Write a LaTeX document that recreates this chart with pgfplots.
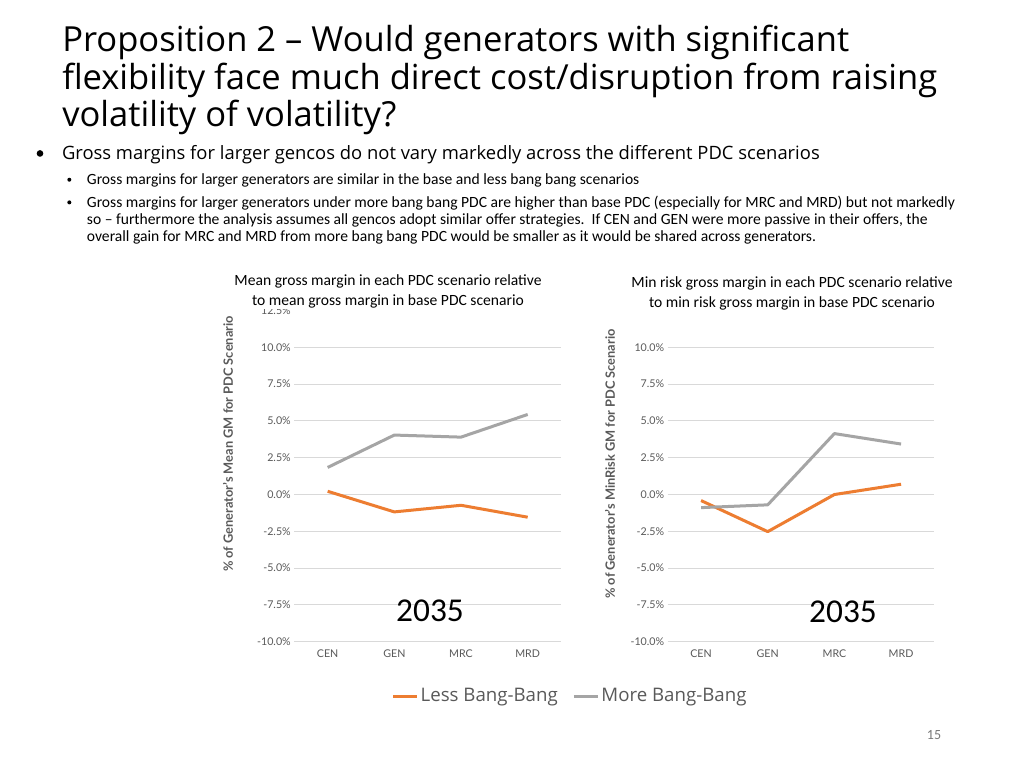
\documentclass[border=0pt]{standalone}
\usepackage{fontspec}
\setmainfont{Lato}
\newfontfamily\osans{Open Sans}
\newfontfamily\carl{Carlito}
\usepackage{pgfplots}
\usepackage{pgfplotstable}
\pgfplotsset{compat=1.18}
\definecolor{lbb}{HTML}{ED7D31}
\definecolor{mbb}{HTML}{A5A5A5}
\definecolor{tickc}{HTML}{595959}
\definecolor{gridc}{HTML}{D9D9D9}

\pgfplotstableread{
x less more
0 0.22 1.84
1 -1.18 4.04
2 -0.73 3.90
3 -1.54 5.44
}\meantab
\pgfplotstableread{
x less more
0 -0.41 -0.89
1 -2.52 -0.70
2 0.00 4.14
3 0.70 3.43
}\mintab

\pgfplotsset{slide/.style={
  scale only axis, width=200pt, height=248.4pt,
  xmin=-0.5, xmax=3.5, ymin=-10, ymax=12.5,
  xtick={0,1,2,3}, xticklabels={CEN,GEN,MRC,MRD},
  ytick={-10,-7.5,-5,-2.5,0,2.5,5,7.5,10},
  yticklabels={-10.0\%,-7.5\%,-5.0\%,-2.5\%,0.0\%,2.5\%,5.0\%,7.5\%,10.0\%},
  ymajorgrids, grid style={gridc, line width=0.75pt},
  axis line style={draw=none}, major tick length=0pt,
  tick label style={font=\fontsize{8}{9.6}\selectfont, text=tickc},
  yticklabel style={anchor=east, inner sep=0pt, xshift=-2.5pt},
  xticklabel style={anchor=base, inner sep=0pt, yshift=-11.8pt},
  every axis plot/.append style={line width=2.25pt, line join=round, no markers},
  clip=false,
}}

\begin{document}
\begin{tikzpicture}
\fill[white] (0,0) rectangle (768pt,576pt);
\path[use as bounding box] (0,0) rectangle (768pt,576pt);

% Left chart
\begin{axis}[slide, at={(220.75pt,94.7pt)}, anchor=south west,
  extra y ticks={12.5}, extra y tick labels={12.5\%}, extra y tick style={grid=none},
  legend columns=2,
  legend style={at={(1.034,-0.164)}, anchor=center, draw=none, fill=none,
    font=\osans\fontsize{14}{17}\selectfont, text=tickc,
    /tikz/every even column/.append style={column sep=9.5pt},
    nodes={inner sep=1.5pt}},
  legend image code/.code={\draw[#1] (0pt,0pt) -- (18pt,0pt);},
]
\addplot[lbb] table[x=x,y=less] {\meantab};
\addlegendentry{Less Bang-Bang}
\addplot[mbb] table[x=x,y=more] {\meantab};
\addlegendentry{More Bang-Bang}
\end{axis}

% Right chart
\begin{axis}[slide, at={(500.8pt,94.7pt)}, anchor=south west]
\addplot[lbb] table[x=x,y=less] {\mintab};
\addplot[mbb] table[x=x,y=more] {\mintab};
\end{axis}

% cover top of 12.5% label (hidden behind the chart title, as in the slide)
\fill[white] (187.5pt,344.5pt) rectangle (228pt,360pt);

% Title
\begin{scope}[every node/.style={anchor=base west, inner sep=0pt, font=\osans\fontsize{25.9}{30}\selectfont}]
\node at (46.5pt,537.2pt) {Proposition 2 – Would generators with significant};
\node at (46.5pt,509.0pt) {flexibility face much direct cost/disruption from raising};
\node at (46.5pt,480.8pt) {volatility of volatility?};
\end{scope}

% Bullets
\fill (30pt,460.9pt) circle (2.5pt);
\node[anchor=base west, inner sep=0pt, font=\osans\fontsize{13.8}{16}\selectfont] at (46.3pt,456.6pt) {Gross margins for larger gencos do not vary markedly across the different PDC scenarios};
\fill (52pt,441.2pt) circle (1.5pt);
\fill (52pt,424.2pt) circle (1.5pt);
\begin{scope}[every node/.style={anchor=base west, inner sep=0pt, font=\carl\fontsize{11.7}{13}\selectfont}]
\node at (65pt,437.4pt) {Gross margins for larger generators are similar in the base and less bang bang scenarios};
\node at (65pt,420.2pt) {Gross margins for larger generators under more bang bang PDC are higher than base PDC (especially for MRC and MRD) but not markedly};
\node at (65pt,407.3pt) {so – furthermore the analysis assumes all gencos adopt similar offer strategies.\ \ If CEN and GEN were more passive in their offers, the};
\node at (65pt,394.6pt) {overall gain for MRC and MRD from more bang bang PDC would be smaller as it would be shared across generators.};
\end{scope}

% Chart titles
\begin{scope}[every node/.style={anchor=base, inner sep=0pt, font=\carl\fontsize{11.7}{13}\selectfont}]
\node at (291pt,361.6pt) {Mean gross margin in each PDC scenario relative};
\node at (291pt,346.8pt) {to mean gross margin in base PDC scenario};
\node at (594pt,360.2pt) {Min risk gross margin in each PDC scenario relative};
\node at (594pt,345.4pt) {to min risk gross margin in base PDC scenario};
\end{scope}

% Y labels
\node[rotate=90, text=tickc, font=\bfseries\fontsize{9.6}{11}\selectfont] at (171pt,243pt) {\% of Generator's Mean GM for PDC Scenario};
\node[rotate=90, text=tickc, font=\bfseries\fontsize{9.6}{11}\selectfont] at (457.5pt,228pt) {\% of Generator's MinRisk GM for PDC Scenario};

% 2035
\node[anchor=base, inner sep=0pt, font=\carl\fontsize{25}{30}\selectfont] at (322.5pt,110pt) {2035};
\node[anchor=base, inner sep=0pt, font=\carl\fontsize{25}{30}\selectfont] at (632.25pt,109.5pt) {2035};

% page number
\node[anchor=base, inner sep=0pt, text=tickc!80, font=\carl\fontsize{10.5}{12}\selectfont] at (700.5pt,21.75pt) {15};
\end{tikzpicture}
\end{document}
